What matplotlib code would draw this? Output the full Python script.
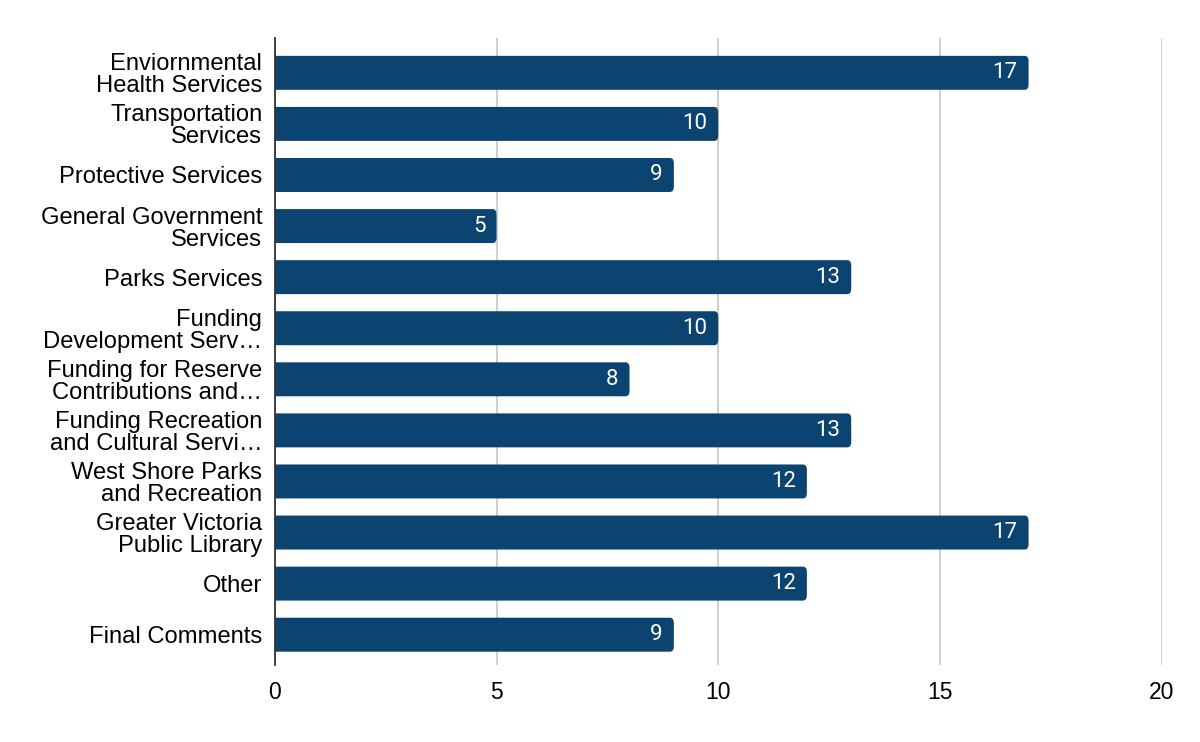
import matplotlib
matplotlib.use("Agg")
import matplotlib.pyplot as plt
from matplotlib.patches import FancyBboxPatch

categories = [
    "Enviornmental\nHealth Services",
    "Transportation\nServices",
    "Protective Services",
    "General Government\nServices",
    "Parks Services",
    "Funding\nDevelopment Serv\u2026",
    "Funding for Reserve\nContributions and\u2026",
    "Funding Recreation\nand Cultural Servi\u2026",
    "West Shore Parks\nand Recreation",
    "Greater Victoria\nPublic Library",
    "Other",
    "Final Comments",
]
counts = [17, 10, 9, 5, 13, 10, 8, 13, 12, 17, 12, 9]
x_ticks = [0, 5, 10, 15, 20]

bar_color = "#0b4471"

fig = plt.figure(figsize=(12, 7.42), dpi=100)
ax = fig.add_axes([0.229, 0.104, 0.739, 0.845])

ypos = list(range(len(categories)))
bars = ax.barh(ypos, counts, height=0.665, color=bar_color, zorder=3)

# swap the plain bars for ones with rounded ends
for b in bars:
    x0, y0, w, h = b.get_x(), b.get_y(), b.get_width(), b.get_height()
    rb = FancyBboxPatch((x0 - 0.2, y0), w + 0.2, h,
                        boxstyle="round,pad=0,rounding_size=0.09",
                        mutation_aspect=1.15, facecolor=bar_color,
                        edgecolor="none", zorder=3)
    ax.add_patch(rb)
    b.set_visible(False)

for y, v in zip(ypos, counts):
    ax.text(v - 0.25, y, str(v), ha="right", va="center", color="white",
            fontsize=16, family="Roboto", zorder=4)

ax.set_xlim(0, 20)
ax.set_ylim(11.59, -0.685)
ax.set_xticks(x_ticks)
ax.set_xticklabels([str(t) for t in x_ticks], fontsize=16.5, family="Liberation Sans")
ax.set_yticks(ypos)
ax.set_yticklabels(categories, fontsize=17.1, family="Liberation Sans", linespacing=1.0)
ax.tick_params(axis="y", length=0, pad=9, colors="#000000")
ax.tick_params(axis="x", length=0, pad=12, colors="#000000")

ax.grid(axis="x", color="#cccccc", linewidth=1.3, zorder=0)
for s in ["top", "right", "bottom"]:
    ax.spines[s].set_visible(False)
ax.spines["left"].set_color("#333333")
ax.spines["left"].set_linewidth(1.3)
ax.spines["left"].set_zorder(5)

fig.savefig("out.png", dpi=100)
